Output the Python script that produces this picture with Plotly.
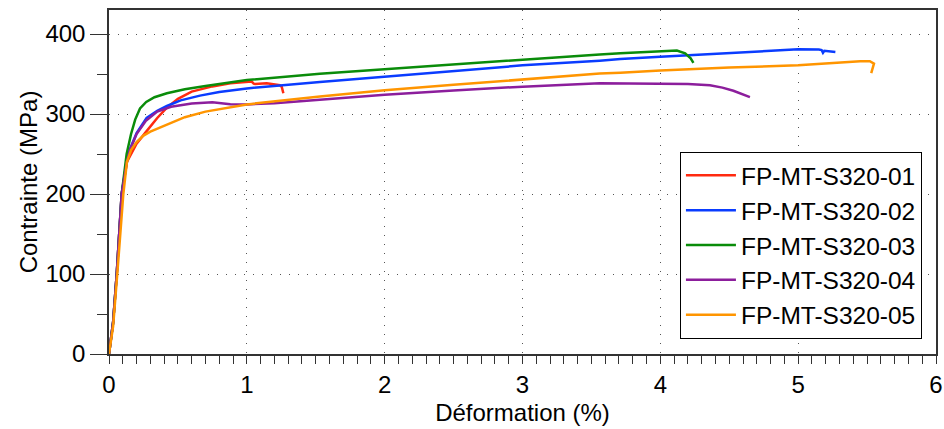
import plotly.graph_objects as go

names = ["FP-MT-S320-01", "FP-MT-S320-02", "FP-MT-S320-03", "FP-MT-S320-04", "FP-MT-S320-05"]
colors = ["#FF2A10", "#0A3CFF", "#0A8C0A", "#8C1E9C", "#FF9500"]

x01 = [0, 0.03, 0.056, 0.092, 0.13, 0.2, 0.27, 0.35, 0.42, 0.5, 0.6, 0.75, 0.88, 1.0, 1.035, 1.05, 1.06, 1.144, 1.2, 1.24, 1.253, 1.265]
y01 = [0, 40, 100, 200, 240, 263, 278, 295, 308, 319, 328, 334.5, 338.5, 340, 340.6, 338, 337.5, 338.3, 337, 336, 334, 326]

x02 = [0, 0.03, 0.056, 0.092, 0.13, 0.152, 0.2, 0.273, 0.35, 0.42, 0.52, 0.66, 0.8, 1.0, 1.53, 2.0, 2.5, 3.0, 3.56, 3.71, 4.0, 4.5, 5.0, 5.15, 5.17, 5.18, 5.19, 5.27]
y02 = [0, 40, 100, 200, 243, 256, 276, 295, 304, 310, 317, 323, 327.5, 332, 340, 346.7, 354, 360.8, 366.6, 368.7, 371.7, 375.8, 380.8, 380.6, 380, 376.5, 379, 377.5]

x03 = [0, 0.03, 0.056, 0.092, 0.128, 0.16, 0.19, 0.225, 0.27, 0.33, 0.42, 0.55, 0.7, 1.0, 1.53, 2.0, 2.5, 3.0, 3.56, 3.71, 4.0, 4.12, 4.18, 4.22, 4.24]
y03 = [0, 40, 100, 200, 250, 275, 293, 307, 315, 321, 326, 331, 335, 342.5, 350.4, 356, 362.5, 368.7, 374.5, 376, 378.8, 379.3, 375.8, 369.6, 364]

x04 = [0, 0.03, 0.056, 0.092, 0.13, 0.152, 0.2, 0.27, 0.35, 0.45, 0.6, 0.75, 0.88, 1.0, 1.2, 1.53, 2.0, 2.5, 3.0, 3.56, 3.71, 4.0, 4.2, 4.36, 4.45, 4.53, 4.65]
y04 = [0, 40, 100, 200, 240, 255, 275, 292, 303, 309, 313, 314.6, 312.3, 312, 313.5, 318, 324, 329.5, 334.2, 338.3, 338, 338, 337.5, 336, 333, 329, 321]

x05 = [0, 0.03, 0.06, 0.104, 0.13, 0.16, 0.2, 0.25, 0.3, 0.42, 0.55, 0.7, 1.0, 1.53, 2.0, 2.5, 3.0, 3.56, 3.71, 4.0, 4.5, 5.0, 5.45, 5.52, 5.55, 5.53]
y05 = [0, 35, 100, 200, 240, 255, 265, 273, 278, 287, 296, 303, 312, 322, 329.6, 336.5, 343.3, 350.5, 351.7, 354.5, 358, 361, 366, 366, 363, 351]

xs = [x01, x02, x03, x04, x05]
ys = [y01, y02, y03, y04, y05]

font_family = "Liberation Sans, Arial, Helvetica, sans-serif"

fig = go.Figure()
for n, c, x, y in zip(names, colors, xs, ys):
    fig.add_trace(go.Scatter(x=x, y=y, mode="lines", name=n,
                             line=dict(color=c, width=2.5)))

axis_common = dict(
    showline=True, linecolor="#333333", linewidth=1.5, mirror=True,
    ticks="outside", tickcolor="#333333", tickwidth=1,
    showgrid=True, gridcolor="#555555", gridwidth=1, griddash="1px,8px",
    zeroline=False, automargin=False, ticklabeloverflow="allow",
    tickfont=dict(family=font_family, size=24, color="#000000"),
)

fig.update_xaxes(
    range=[0, 6], dtick=1, tick0=0, ticklen=8,
    minor=dict(dtick=0.1, ticklen=8, ticks="outside", tickcolor="#333333", showgrid=False),
    title=dict(text="Déformation (%)", font=dict(family=font_family, size=24, color="#000000"), standoff=8),
    **axis_common,
)
fig.update_yaxes(
    range=[0, 430], dtick=100, tick0=0, ticklen=17,
    minor=dict(dtick=50, ticklen=10, ticks="outside", tickcolor="#333333", showgrid=False),
    title=dict(text="Contrainte (MPa)", font=dict(family=font_family, size=24, color="#000000"), standoff=1),
    **axis_common,
)

fig.update_layout(
    width=944, height=429,
    margin=dict(l=109, r=8, t=10, b=75),
    plot_bgcolor="white", paper_bgcolor="white",
    font=dict(family=font_family, size=22, color="#000000"),
    showlegend=True,
    legend=dict(
        x=0.983, y=0.044, xanchor="right", yanchor="bottom",
        bordercolor="#000000", borderwidth=1, bgcolor="white",
        font=dict(family=font_family, size=24.5, color="#000000"),
        itemwidth=50, tracegroupgap=0,
    ),
)

fig.write_html(
    "out.html",
    config={"displayModeBar": False},
    post_script="document.body.style.margin='0';document.body.style.overflow='hidden';",
)
